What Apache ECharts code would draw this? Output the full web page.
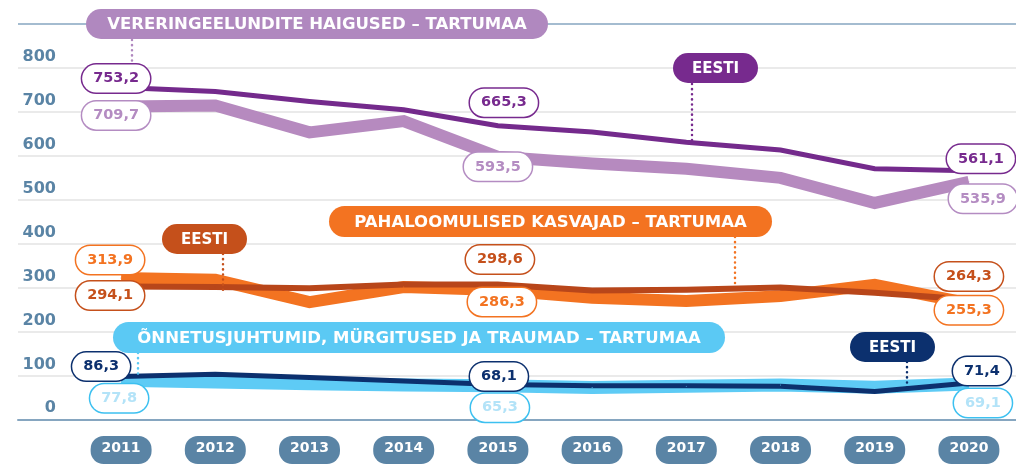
<!DOCTYPE html>
<html>
<head>
<meta charset="utf-8">
<script src="https://cdn.jsdelivr.net/npm/echarts@6/dist/echarts.min.js"></script>
<style>
  html, body { margin: 0; padding: 0; background: #fff; }
  #chart { width: 1016px; height: 464px; }
</style>
</head>
<body>
<div id="chart"></div>
<script>
// years on the x axis
const years = ['2011', '2012', '2013', '2014', '2015', '2016', '2017', '2018', '2019', '2020'];

// vereringeelundite haigused
const eestiCirc = [753.2, 744, 721, 702, 665.3, 651, 627, 609, 566, 561.1];
const tartuCirc = [709.7, 712, 650, 676, 593.5, 578, 566, 545, 487, 535.9];

// pahaloomulised kasvajad
const eestiCancer = [294.1, 293, 290, 299, 298.6, 285, 287, 292, 280, 264.3];
const tartuCancer = [313.9, 310, 258, 293, 286.3, 268, 261, 272, 298, 255.3];

// õnnetusjuhtumid, mürgitused ja traumad
const eestiInjury = [86.3, 92, 84, 76, 68.1, 65, 65, 64, 52, 71.4];
const tartuInjury = [77.8, 74, 70, 67, 65.3, 61, 64, 67, 62, 69.1];

const yMax = 900;
const yStep = 100;

const FONT = '"DejaVu Sans", sans-serif';
const AXIS_BLUE = '#5a84a5';

const chart = echarts.init(document.getElementById('chart'), null, { renderer: 'canvas' });

function makeLine(name, values, lineColor, width, textColor, borderColor, offsets) {
  return {
    name: name,
    type: 'line',
    xAxisIndex: 0,
    yAxisIndex: 0,
    symbol: 'circle',
    symbolSize: 1,
    silent: true,
    itemStyle: { color: lineColor },
    lineStyle: { color: lineColor, width: width, cap: 'butt', join: 'miter' },
    label: {
      show: false,
      position: 'inside',
      formatter: (p) => String(p.value).replace('.', ','),
      color: textColor,
      fontFamily: FONT,
      fontWeight: 'bold',
      fontSize: 14.5,
      lineHeight: 18,
      backgroundColor: '#fff',
      borderColor: borderColor,
      borderWidth: 1.5,
      borderRadius: 14,
      padding: [5, 11, 5, 11]
    },
    data: values.map((v, i) => offsets[i]
      ? { value: v, label: { show: true, offset: offsets[i] } }
      : v)
  };
}

const series = [
  makeLine('Vereringe Tartumaa', tartuCirc, '#b68abf', 12, '#b48cc2', '#b48cc2',
    { 0: [-5, 9], 4: [0, 10], 9: [14, 17] }),
  makeLine('Kasvajad Tartumaa', tartuCancer, '#f37321', 12, '#f37321', '#f37321',
    { 0: [-11, -18], 4: [4, 12], 9: [0, 7] }),
  makeLine('Traumad Tartumaa', tartuInjury, '#5ecbf5', 13, '#b3e3f8', '#3cc0f0',
    { 0: [-2, 18], 4: [2, 22], 9: [14, 19] }),
  makeLine('Vereringe Eesti', eestiCirc, '#742a8c', 5, '#772a8e', '#772a8e',
    { 0: [-5, -9], 4: [6, -23], 9: [12, -12] }),
  makeLine('Kasvajad Eesti', eestiCancer, '#b8461a', 6, '#c5501b', '#c5501b',
    { 0: [-11, 9], 4: [2, -25], 9: [0, -23] }),
  makeLine('Traumad Eesti', eestiInjury, '#0c306e', 5, '#0c306e', '#0c306e',
    { 0: [-20, -10], 4: [1, -8], 9: [13, -12] })
];

// annotation pills with dotted leaders
const notes = [
  { text: 'VERERINGEELUNDITE HAIGUSED – TARTUMAA', color: '#b088bf', box: [86, 9, 462, 30], lead: [132, 40, 132, 63] },
  { text: 'EESTI', color: '#772a8e', box: [673, 53, 85, 30], lead: [692, 84, 692, 141] },
  { text: 'PAHALOOMULISED KASVAJAD – TARTUMAA', color: '#f37321', box: [329, 206, 443, 31], lead: [735, 237, 735, 287] },
  { text: 'EESTI', color: '#c5501b', box: [162, 224, 85, 30], lead: [223, 254, 223, 290] },
  { text: 'ÕNNETUSJUHTUMID, MÜRGITUSED JA TRAUMAD – TARTUMAA', color: '#5bc9f4', box: [113, 322, 612, 31], lead: [138, 353, 138, 377] },
  { text: 'EESTI', color: '#0c306e', box: [850, 332, 85, 30], lead: [907, 362, 907, 391] }
];

const graphics = [];
notes.forEach((n) => {
  const [x, y, w, h] = n.box;
  const [x1, y1, x2, y2] = n.lead;
  graphics.push({
    type: 'line', z: 90, silent: true,
    shape: { x1: x1, y1: y1, x2: x2, y2: y2 },
    style: { stroke: n.color, lineWidth: 2.5, lineDash: [0.1, 5], lineCap: 'round' }
  });
  graphics.push({
    type: 'rect', z: 100, silent: true,
    shape: { x: x, y: y, width: w, height: h, r: h / 2 },
    style: { fill: n.color }
  });
  graphics.push({
    type: 'text', z: 101, silent: true,
    x: x + w / 2, y: y + h / 2 + 1,
    style: {
      text: n.text, fill: '#fff', align: 'center', verticalAlign: 'middle',
      font: 'bold ' + (n.text.length > 6 ? 16.5 : 15) + 'px ' + FONT
    }
  });
});

const gridLineColors = [];
for (let v = 0; v <= yMax; v += yStep) {
  gridLineColors.push(v === 0 || v === yMax ? '#86a6c0' : '#e3e3e3');
}

const option = {
  animation: false,
  backgroundColor: '#fff',
  grid: [
    { left: 74, right: 0, top: 24, bottom: 44.7 },
    { left: 18, right: 0, top: 24, bottom: 44.7 }
  ],
  xAxis: [
    {
      type: 'category',
      gridIndex: 0,
      data: years,
      boundaryGap: true,
      axisLine: { show: false },
      axisTick: { show: false },
      splitLine: { show: false },
      axisLabel: {
        margin: 22,
        color: '#fff',
        fontFamily: FONT,
        fontWeight: 'bold',
        fontSize: 14,
        lineHeight: 18,
        backgroundColor: AXIS_BLUE,
        borderRadius: 13,
        padding: [3, 11, 7, 11]
      }
    },
    {
      type: 'value',
      gridIndex: 1,
      min: 0, max: 1,
      axisLine: { show: true, lineStyle: { color: '#86a6c0', width: 2 } },
      axisTick: { show: false },
      axisLabel: { show: false },
      splitLine: { show: false }
    }
  ],
  yAxis: [
    {
      type: 'value',
      gridIndex: 0,
      min: 0, max: yMax, interval: yStep,
      axisLine: { show: false },
      axisTick: { show: false },
      axisLabel: { show: false },
      splitLine: { show: false }
    },
    {
      type: 'value',
      gridIndex: 1,
      min: 0, max: yMax, interval: yStep,
      axisLine: { show: false },
      axisTick: { show: false },
      splitLine: { show: true, lineStyle: { color: gridLineColors, width: 1.5 } },
      axisLabel: {
        inside: true,
        margin: 38,
        align: 'right',
        verticalAlign: 'bottom',
        padding: [0, 0, 3, 0],
        color: AXIS_BLUE,
        fontFamily: FONT,
        fontWeight: 'bold',
        fontSize: 16,
        formatter: (v) => (v === yMax ? '' : String(v))
      }
    }
  ],
  series: series,
  graphic: graphics
};

chart.setOption(option);
</script>
</body>
</html>
